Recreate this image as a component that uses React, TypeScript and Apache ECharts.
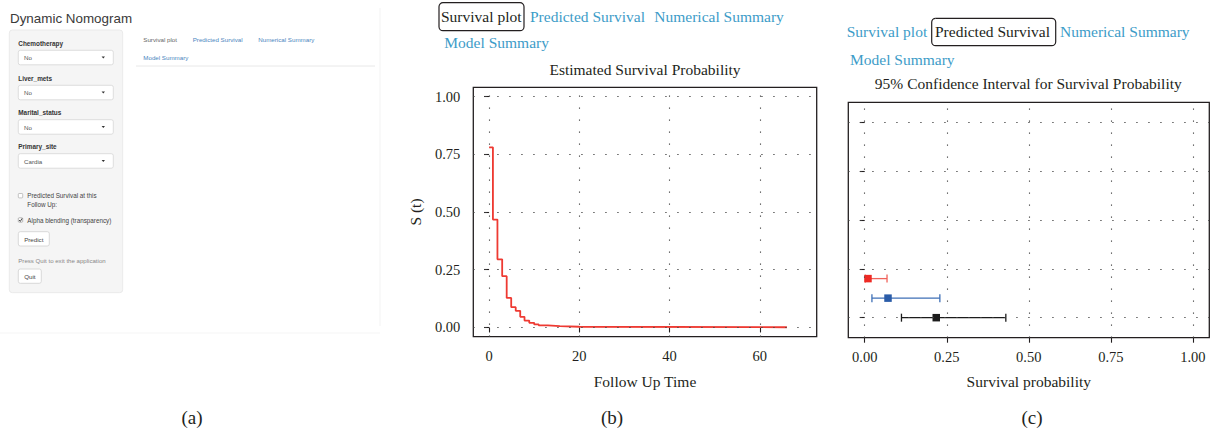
import React, { useEffect, useRef } from "react";
import * as echarts from "echarts";

// ---------- data ----------
const survTime = [0, 0.85, 1.85, 2.9, 3.9, 4.9, 5.9, 6.9, 7.85, 8.9, 10, 11, 13, 15.7, 20, 66];
const survProb = [0.78, 0.467, 0.295, 0.222, 0.128, 0.088, 0.072, 0.046, 0.03, 0.02, 0.013, 0.009, 0.006, 0.003, 0.001, 0.001];
const survXTicks = [0, 20, 40, 60];
const survYTicks = [0, 0.25, 0.5, 0.75, 1];

const ciRow = [1.8, 1.4, 1.0];
const ciEst = [0.01, 0.071, 0.218];
const ciLower = [0.002, 0.022, 0.112];
const ciUpper = [0.068, 0.229, 0.43];
const ciColor = ["#ee2a24", "#2a5ca8", "#1c1c1c"];
const ciBarColor = ["#f0625a", "#3e6fb6", "#1c1c1c"];
const ciXTicks = [0, 0.25, 0.5, 0.75, 1];
const ciYTicks = [1, 2, 3, 4, 5];

const tabNames = ["Survival plot", "Predicted Survival", "Numerical Summary", "Model Summary"];
const inputLabels = ["Chemotherapy", "Liver_mets", "Marital_status", "Primary_site"];
const inputValues = ["No", "No", "No", "Cardia"];
const panelCaptions = ["(a)", "(b)", "(c)"];

// ---------- styles ----------
const SERIF = '"Liberation Serif", "DejaVu Serif", serif';
const SANS = '"Liberation Sans", Arial, sans-serif';
const INK = "#231f20";
const LINK = "#3d9cc8";

function txt(x: number, y: number, text: string, font: string, fill: string, align = "left", vAlign = "middle") {
  return {
    type: "text",
    x,
    y,
    silent: true,
    style: { text, font, fill, align, verticalAlign: vAlign, textAlign: align, textVerticalAlign: vAlign },
  };
}
function rect(x: number, y: number, w: number, h: number, fill: string, stroke: string, r = 0, lw = 1) {
  return { type: "rect", silent: true, shape: { x, y, width: w, height: h, r }, style: { fill, stroke, lineWidth: lw } };
}
function line(x1: number, y1: number, x2: number, y2: number, stroke: string, lw = 1) {
  return { type: "line", silent: true, shape: { x1, y1, x2, y2 }, style: { stroke, lineWidth: lw } };
}

function buildGraphics() {
  const g: any[] = [];
  // ---- panel (a): app screenshot ----
  g.push(line(380, 8, 380, 326, "#f3f3f3", 1));
  g.push(line(0, 333, 380, 333, "#f5f5f5", 1));
  g.push(txt(10, 18.5, "Dynamic Nomogram", `13.4px ${SANS}`, "#3a3a3a"));
  g.push(rect(9.3, 30, 113.4, 262.7, "#f5f5f5", "#e6e6e6", 3, 0.8));
  const labelY = [43.3, 78.3, 112.7, 146.7];
  inputLabels.forEach((lab, i) => {
    const ly = labelY[i];
    g.push(txt(18.3, ly, lab, `bold 6.4px ${SANS}`, "#333"));
    const top = ly + 7;
    g.push(rect(18.3, top, 95, 14.5, "#ffffff", "#d6d6d6", 2, 0.8));
    g.push(txt(24, top + 7.3, inputValues[i], `6.2px ${SANS}`, "#555"));
    g.push({
      type: "polygon",
      silent: true,
      shape: { points: [[101.6, top + 6.3], [105, top + 6.3], [103.3, top + 8.3]] },
      style: { fill: "#333" },
    });
  });
  // checkboxes
  g.push(rect(18.3, 193.5, 4.4, 4.4, "#fff", "#aaa", 0.8, 0.7));
  g.push(txt(27.3, 195.7, "Predicted Survival at this", `6.3px ${SANS}`, "#444"));
  g.push(txt(27.3, 204.3, "Follow Up:", `6.3px ${SANS}`, "#444"));
  g.push(rect(18.3, 217.8, 4.4, 4.4, "#fff", "#999", 0.8, 0.7));
  g.push({
    type: "polyline",
    silent: true,
    shape: { points: [[19.1, 220], [20.3, 221.4], [22.1, 218.4]] },
    style: { stroke: "#333", lineWidth: 0.9, fill: null },
  });
  g.push(txt(27.3, 220, "Alpha blending (transparency)", `6.3px ${SANS}`, "#444"));
  g.push(rect(18.3, 231.7, 31, 14.3, "#fff", "#d0d0d0", 2, 0.8));
  g.push(txt(33.8, 239, "Predict", `6.2px ${SANS}`, "#444", "center"));
  g.push(txt(18.3, 260, "Press Quit to exit the application", `6.1px ${SANS}`, "#888"));
  g.push(rect(18.3, 269, 23, 14.3, "#fff", "#d0d0d0", 2, 0.8));
  g.push(txt(29.8, 276.2, "Quit", `6.2px ${SANS}`, "#444", "center"));
  // tabs of (a)
  g.push(txt(143.3, 39.3, tabNames[0], `6.2px ${SANS}`, "#666"));
  g.push(txt(192.7, 39.3, tabNames[1], `6.2px ${SANS}`, "#4a86c0"));
  g.push(txt(258.3, 39.3, tabNames[2], `6.2px ${SANS}`, "#4a86c0"));
  g.push(txt(143.3, 57.3, tabNames[3], `6.2px ${SANS}`, "#4a86c0"));
  g.push(line(136, 66, 375, 66, "#e2e2e2", 0.8));

  // ---- panel (b) tabs ----
  const TF = `15.5px ${SERIF}`;
  g.push(rect(439, 2.7, 85, 28, "none", INK, 4, 1.2));
  g.push(txt(441, 16.5, tabNames[0], TF, INK));
  g.push(txt(530, 16.5, tabNames[1], TF, LINK));
  g.push(txt(654.3, 16.5, tabNames[2], TF, LINK));
  g.push(txt(444.3, 42.3, tabNames[3], TF, LINK));
  g.push(txt(645, 69, "Estimated Survival Probability", TF, INK, "center"));

  // ---- panel (c) tabs ----
  g.push(txt(846.7, 31.7, tabNames[0], TF, LINK));
  g.push(rect(931.7, 18.3, 124, 27.4, "none", INK, 4, 1.2));
  g.push(txt(935, 31.7, tabNames[1], TF, INK));
  g.push(txt(1060, 31.7, tabNames[2], TF, LINK));
  g.push(txt(850, 59, tabNames[3], TF, LINK));
  g.push(txt(1028.3, 83.5, "95% Confidence Interval for Survival Probability", TF, INK, "center"));

  // captions
  const capX = [192, 612, 1032];
  panelCaptions.forEach((c, i) => g.push(txt(capX[i], 417, c, `19px ${SERIF}`, INK, "center")));
  return g;
}

const gridLineStyle = { color: "#444", width: 1.1, type: [1.3, 10.7] as any };

function gridMarkLine(xs: number[], ys: number[]) {
  return {
    silent: true,
    symbol: "none",
    label: { show: false },
    lineStyle: gridLineStyle,
    emphasis: { disabled: true },
    data: [...xs.map((v) => ({ xAxis: v })), ...ys.map((v) => ({ yAxis: v }))],
  };
}

const tickLabel = { fontFamily: SERIF, fontSize: 14.5, color: INK };
const nameStyle = { fontFamily: SERIF, fontSize: 15.5, color: INK };

function buildOption() {
  return {
    animation: false,
    backgroundColor: "#ffffff",
    graphic: { elements: buildGraphics() },
    grid: [
      { left: 473.3, top: 87.3, width: 343.4, height: 249.4, show: true, borderColor: INK, borderWidth: 1.3, backgroundColor: "transparent" },
      { left: 848.3, top: 102.3, width: 361, height: 235.4, show: true, borderColor: INK, borderWidth: 1.3, backgroundColor: "transparent" },
    ],
    xAxis: [
      {
        type: "value",
        gridIndex: 0,
        min: -3.5,
        max: 72.6,
        axisLine: { show: false },
        axisTick: { show: true, length: 5, lineStyle: { color: INK, width: 1.1 }, customValues: survXTicks },
        axisLabel: { ...tickLabel, margin: 12, customValues: survXTicks },
        splitLine: { show: false },
        name: "Follow Up Time",
        nameLocation: "middle",
        nameGap: 37,
        nameTextStyle: nameStyle,
      },
      {
        type: "value",
        gridIndex: 1,
        min: -0.05,
        max: 1.05,
        axisLine: { show: false },
        axisTick: { show: true, length: 5, lineStyle: { color: INK, width: 1.1 }, customValues: ciXTicks },
        axisLabel: { ...tickLabel, margin: 12, customValues: ciXTicks, formatter: (v: number) => v.toFixed(2) },
        splitLine: { show: false },
        name: "Survival probability",
        nameLocation: "middle",
        nameGap: 36,
        nameTextStyle: nameStyle,
      },
    ],
    yAxis: [
      {
        type: "value",
        gridIndex: 0,
        min: -0.04,
        max: 1.04,
        axisLine: { show: false },
        axisTick: { show: true, length: 5, lineStyle: { color: INK, width: 1.1 }, customValues: survYTicks },
        axisLabel: { ...tickLabel, margin: 13, customValues: survYTicks, formatter: (v: number) => v.toFixed(2) },
        splitLine: { show: false },
        name: "S (t)",
        nameLocation: "middle",
        nameRotate: 90,
        nameGap: 50,
        nameTextStyle: nameStyle,
      },
      {
        type: "value",
        gridIndex: 1,
        min: 0.59,
        max: 5.41,
        axisLine: { show: false },
        axisTick: { show: true, length: 5, lineStyle: { color: INK, width: 1.1 }, customValues: ciYTicks },
        axisLabel: { show: false },
        splitLine: { show: false },
      },
    ],
    series: [
      {
        type: "line",
        xAxisIndex: 0,
        yAxisIndex: 0,
        step: "end",
        symbol: "none",
        silent: true,
        data: survTime.map((t, i) => [t, survProb[i]]),
        lineStyle: { color: "#ee3a32", width: 1.8 },
        markLine: gridMarkLine(survXTicks, survYTicks),
        z: 3,
      },
      {
        type: "line",
        xAxisIndex: 1,
        yAxisIndex: 1,
        data: [],
        symbol: "none",
        silent: true,
        markLine: gridMarkLine(ciXTicks, ciYTicks),
      },
      {
        type: "custom",
        xAxisIndex: 1,
        yAxisIndex: 1,
        silent: true,
        data: ciRow.map((r, i) => [r, ciLower[i], ciEst[i], ciUpper[i]]),
        encode: { x: [1, 2, 3], y: 0 },
        renderItem: (params: any, api: any) => {
          const y = api.value(0);
          const lo = api.coord([api.value(1), y]);
          const est = api.coord([api.value(2), y]);
          const hi = api.coord([api.value(3), y]);
          const i = params.dataIndex;
          const bc = ciBarColor[i];
          const cap = 4;
          const sq = 7.5;
          const ls = { stroke: bc, lineWidth: 1.3 };
          return {
            type: "group",
            children: [
              { type: "line", shape: { x1: lo[0], y1: lo[1], x2: hi[0], y2: hi[1] }, style: ls },
              { type: "line", shape: { x1: lo[0], y1: lo[1] - cap, x2: lo[0], y2: lo[1] + cap }, style: ls },
              { type: "line", shape: { x1: hi[0], y1: hi[1] - cap, x2: hi[0], y2: hi[1] + cap }, style: ls },
              { type: "rect", shape: { x: est[0] - sq / 2, y: est[1] - sq / 2, width: sq, height: sq }, style: { fill: ciColor[i] } },
            ],
          };
        },
        z: 4,
      },
    ],
  };
}

export default function App() {
  const ref = useRef<HTMLDivElement>(null);
  useEffect(() => {
    if (!ref.current) return;
    const chart = echarts.init(ref.current, null, { renderer: "svg", width: 1215, height: 431 });
    chart.setOption(buildOption() as any);
    return () => chart.dispose();
  }, []);
  return (
    <div
      ref={ref}
      style={{ position: "fixed", left: 0, top: 0, width: 1215, height: 431, background: "#ffffff" }}
    />
  );
}
